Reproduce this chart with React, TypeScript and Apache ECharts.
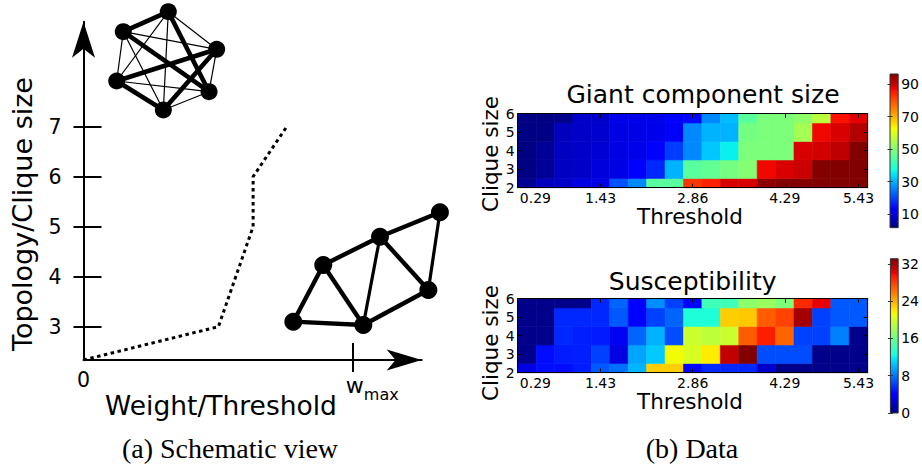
import React, { useEffect, useRef } from "react";
import * as echarts from "echarts";

// ---------- heatmap data ----------
const cliqueSizes = [2, 3, 4, 5, 6];
const thresholdTickCols = [1, 5, 10, 15, 19];
const thresholdTickLabels = ["0.29", "1.43", "2.86", "4.29", "5.43"];

// Giant component size, one row per clique size, 19 threshold steps
const giant2 = [3.2, 6.7, 7.5, 9.8, 9.8, 21, 26, 45, 45, 82.4, 84.4, 89, 89, 95, 96, 96, 96, 96, 96];
const giant3 = [1.8, 3.6, 7, 7.5, 9.3, 9.8, 12.5, 17, 30, 45, 46, 48, 50, 87, 89, 90, 96, 96, 96];
const giant4 = [1.8, 3.6, 7, 7.7, 8.5, 9.8, 10.4, 12.5, 19, 26, 32, 35.8, 49, 49, 49, 89, 89.5, 91, 96];
const giant5 = [2, 2, 6.7, 7.5, 8, 9.8, 10, 10.5, 11.5, 26, 30, 30, 48, 49, 49, 53.5, 87, 89, 92];
const giant6 = [2, 2, 2.5, 7.7, 7.7, 10.4, 10.4, 10.4, 12, 14, 26, 31, 45, 49, 49, 51, 56, 86, 88];

// Susceptibility
const susc2 = [2.9, 4.5, 4.5, 5, 7, 7.8, 10, 22.9, 22.9, 4.3, 5.4, 5.4, 5.4, 2.2, 0.3, 0.3, 0.3, 0.3, 0.3];
const susc3 = [0.3, 4.5, 5, 5.1, 6.2, 2.8, 9.5, 10.7, 21.3, 20.2, 21.8, 31.2, 33, 6.6, 6.6, 6.6, 0.3, 0.3, 0.3];
const susc4 = [0.3, 0.3, 5.4, 5.1, 5, 3.3, 7.4, 9.9, 6.6, 19.7, 19.2, 19.7, 26.9, 29.1, 26.6, 6.2, 6.2, 8.25, 0.3];
const susc5 = [0.3, 0.3, 5.4, 5.4, 5.4, 7, 4, 6.2, 7.4, 12.8, 12.8, 22.9, 23.1, 26.9, 27.8, 32.1, 6.2, 7, 7];
const susc6 = [0.3, 0.3, 0.3, 0.3, 5.4, 7.4, 4, 8.7, 6.2, 4.2, 14.1, 14.1, 17.2, 17.7, 16.7, 28.7, 30.1, 7, 7];

const giantRange = [1.6, 96.2];
const giantTicks = [10, 30, 50, 70, 90];
const suscRange = [0, 33.1];
const suscTicks = [0, 8, 16, 24, 32];

// ---------- schematic data ----------
const schematicYTicks = [3, 4, 5, 6, 7];
const schematicXTicks = [0, 1];
const schematicXMax = 1.2582;
const schematicYMin = 7 / 3;
const schematicYMax = 9.1;
const transitionCurve = [
  [0, 7 / 3],
  [0.502, 3],
  [0.631, 5],
  [0.631, 6],
  [0.756, 7],
];
const cliqueNodes = [
  [0.3155, 9.3],
  [0.148, 8.9],
  [0.4955, 8.548],
  [0.1235, 7.914],
  [0.467, 7.7],
  [0.297, 7.334],
];
// two strong triangles (0-1-4, 2-3-5) inside a complete graph of weak links
const cliqueStrongLinks = [
  [0, 1], [0, 4], [1, 4], [2, 3], [2, 5], [3, 5],
];
const cliqueWeakLinks = [
  [0, 2], [0, 3], [0, 5], [1, 2], [1, 3], [1, 5], [2, 4], [3, 4], [4, 5],
];
const meshNodes = [
  [0.7805, 3.1],
  [0.892, 4.234],
  [1.041, 3.034],
  [1.103, 4.8],
  [1.283, 3.734],
  [1.326, 5.288],
];
const meshLinks = [
  [0, 1, 4.4], [0, 2, 4.4], [1, 2, 4.4], [1, 3, 4.4], [2, 3, 3.2],
  [2, 4, 4.4], [3, 4, 4.4], [3, 5, 4.4], [4, 5, 3.2],
];

// ---------- jet colormap ----------
const jetR = [[0, 0], [0.35, 0], [0.66, 1], [0.89, 1], [1, 0.5]];
const jetG = [[0, 0], [0.125, 0], [0.375, 1], [0.64, 1], [0.91, 0], [1, 0]];
const jetB = [[0, 0.5], [0.11, 1], [0.34, 1], [0.65, 0], [1, 0]];
const jetKnots = [0, 0.11, 0.125, 0.34, 0.35, 0.375, 0.64, 0.65, 0.66, 0.89, 0.91, 1];

function channel(pts: number[][], t: number) {
  for (let i = 1; i < pts.length; i++) {
    if (t <= pts[i][0]) {
      const [t0, v0] = pts[i - 1];
      const [t1, v1] = pts[i];
      return v0 + ((v1 - v0) * (t - t0)) / (t1 - t0);
    }
  }
  return pts[pts.length - 1][1];
}
function jet(t: number) {
  const c = Math.max(0, Math.min(1, t));
  const r = Math.round(255 * channel(jetR, c));
  const g = Math.round(255 * channel(jetG, c));
  const b = Math.round(255 * channel(jetB, c));
  return `rgb(${r},${g},${b})`;
}

const FONT = "DejaVu Sans";

function cellSeries(rows: number[][], range: number[], axisX: number, axisY: number) {
  const data: number[][] = [];
  rows.forEach((row, r) => row.forEach((v, c) => data.push([c + 1, cliqueSizes[r], v])));
  return {
    type: "custom",
    xAxisIndex: axisX,
    yAxisIndex: axisY,
    data,
    encode: { x: 0, y: 1 },
    renderItem: (params: any, api: any) => {
      const x = api.value(0);
      const y = api.value(1);
      const v = api.value(2);
      const p0 = api.coord([x - 0.5, y + 0.5]);
      const p1 = api.coord([x + 0.5, y - 0.5]);
      const cs = params.coordSys;
      const rect = echarts.graphic.clipRectByRect(
        { x: p0[0], y: p0[1], width: p1[0] - p0[0], height: p1[1] - p0[1] },
        { x: cs.x, y: cs.y, width: cs.width, height: cs.height }
      );
      if (!rect) return null;
      const color = jet((v - range[0]) / (range[1] - range[0]));
      return {
        type: "rect",
        shape: rect,
        style: { fill: color, stroke: color, lineWidth: 0.6 },
      };
    },
  };
}

function colorbarSeries(range: number[], axisX: number, axisY: number) {
  return {
    type: "custom",
    xAxisIndex: axisX,
    yAxisIndex: axisY,
    data: [[0, range[0], range[1]]],
    renderItem: (_params: any, api: any) => {
      const lo = api.coord([0, api.value(1)]);
      const hi = api.coord([1, api.value(2)]);
      const stops = jetKnots.map((k) => ({ offset: k, color: jet(k) }));
      return {
        type: "rect",
        shape: { x: lo[0], y: hi[1], width: hi[0] - lo[0], height: lo[1] - hi[1] },
        style: {
          fill: new echarts.graphic.LinearGradient(0, 1, 0, 0, stops),
          stroke: "#333",
          lineWidth: 1,
        },
      };
    },
  };
}

// first threshold label sits a little right of its tick
const thresholdLabel = (v: number) => {
  const i = thresholdTickCols.indexOf(Math.round(v));
  if (i < 0) return "";
  return i === 0 ? `{first|${thresholdTickLabels[i]}}` : `{t|${thresholdTickLabels[i]}}`;
};

const heatXAxes = (grid: number) => [
  {
    gridIndex: grid,
    type: "value",
    min: 0.5,
    max: 19.5,
    position: "bottom",
    z: 10,
    axisLine: { show: true, lineStyle: { color: "#000", width: 1 } },
    axisTick: { show: true, inside: true, length: 4, customValues: thresholdTickCols, lineStyle: { color: "#000" } },
    axisLabel: {
      customValues: thresholdTickCols,
      formatter: thresholdLabel,
      margin: 3,
      rich: {
        t: { fontSize: 14, fontFamily: FONT, color: "#000" },
        first: { fontSize: 14, fontFamily: FONT, color: "#000", padding: [0, 0, 0, 17] },
      },
    },
    splitLine: { show: false },
  },
  {
    gridIndex: grid,
    type: "value",
    min: 0.5,
    max: 19.5,
    position: "top",
    z: 10,
    axisLine: { show: true, lineStyle: { color: "#000", width: 1 } },
    axisTick: { show: true, inside: true, length: 4, customValues: thresholdTickCols, lineStyle: { color: "#000" } },
    axisLabel: { show: false },
    splitLine: { show: false },
  },
];

const heatYAxes = (grid: number) => [
  {
    gridIndex: grid,
    type: "value",
    min: 2,
    max: 6,
    interval: 1,
    position: "left",
    z: 10,
    axisLine: { show: true, lineStyle: { color: "#000", width: 1 } },
    axisTick: { show: true, inside: true, length: 4, lineStyle: { color: "#000" } },
    axisLabel: { fontSize: 14, color: "#000", margin: 3 },
    splitLine: { show: false },
  },
  {
    gridIndex: grid,
    type: "value",
    min: 2,
    max: 6,
    interval: 1,
    position: "right",
    z: 10,
    axisLine: { show: true, lineStyle: { color: "#000", width: 1 } },
    axisTick: { show: true, inside: true, length: 4, lineStyle: { color: "#000" } },
    axisLabel: { show: false },
    splitLine: { show: false },
  },
];

const barYAxes = (grid: number, range: number[], ticks: number[]) => [
  {
    gridIndex: grid,
    type: "value",
    min: range[0],
    max: range[1],
    position: "right",
    z: 10,
    axisLine: { show: false },
    axisTick: { show: true, inside: true, length: 2.5, customValues: ticks, lineStyle: { color: "#333" } },
    axisLabel: { customValues: ticks, fontSize: 14, color: "#000", margin: 3 },
    splitLine: { show: false },
  },
  {
    gridIndex: grid,
    type: "value",
    min: range[0],
    max: range[1],
    position: "left",
    z: 10,
    axisLine: { show: false },
    axisTick: { show: true, inside: true, length: 2.5, customValues: ticks, lineStyle: { color: "#333" } },
    axisLabel: { show: false },
    splitLine: { show: false },
  },
];

const text = (t: string, x: number, y: number, size: number, opts: any = {}) => ({
  type: "text",
  x,
  y,
  rotation: opts.rotation ?? 0,
  style: {
    text: t,
    fontSize: size,
    fontFamily: opts.family ?? FONT,
    fill: "#000",
    textAlign: "center",
    textVerticalAlign: "middle",
  },
});

function buildOption() {
  return {
    animation: false,
    backgroundColor: "#fff",
    textStyle: { fontFamily: FONT, color: "#000" },
    grid: [
      { left: 83.5, top: 21.7, width: 338.2, height: 338.3 },
      { left: 517.7, top: 113.7, width: 350, height: 74 },
      { left: 517.7, top: 298.7, width: 350, height: 74 },
      { left: 890, top: 74, width: 8.3, height: 153.7 },
      { left: 890.4, top: 258.7, width: 7.8, height: 154.3 },
    ],
    xAxis: [
      {
        gridIndex: 0,
        type: "value",
        min: 0,
        max: schematicXMax,
        position: "bottom",
        z: 5,
        axisLine: {
          show: true,
          symbol: ["none", "arrow"],
          symbolSize: [15.75, 35],
          lineStyle: { color: "#000", width: 2 },
        },
        axisTick: { show: true, inside: true, length: 17, customValues: [1], lineStyle: { color: "#000", width: 2 } },
        axisLabel: {
          customValues: schematicXTicks,
          margin: 9,
          formatter: (v: number) => (v === 0 ? "{o|0}" : "{w|w}{m|max}"),
          rich: {
            o: { fontSize: 20.5, fontFamily: FONT, color: "#000" },
            w: { fontSize: 22, fontFamily: FONT, color: "#000", verticalAlign: "bottom", padding: [5, 0, 6, 40] },
            m: { fontSize: 16, fontFamily: FONT, color: "#000", verticalAlign: "bottom" },
          },
        },
        splitLine: { show: false },
      },
      {
        gridIndex: 0,
        type: "value",
        min: 0,
        max: schematicXMax,
        position: "bottom",
        axisLine: { show: false },
        axisTick: { show: true, inside: false, length: 12, customValues: [1], lineStyle: { color: "#000", width: 2 } },
        axisLabel: { show: false },
        splitLine: { show: false },
      },
      ...heatXAxes(1),
      ...heatXAxes(2),
      { gridIndex: 3, type: "value", min: 0, max: 1, show: false },
      { gridIndex: 4, type: "value", min: 0, max: 1, show: false },
    ],
    yAxis: [
      {
        gridIndex: 0,
        type: "value",
        min: schematicYMin,
        max: schematicYMax,
        position: "left",
        z: 5,
        axisLine: {
          show: true,
          symbol: ["none", "arrow"],
          symbolSize: [17.25, 36],
          lineStyle: { color: "#000", width: 2 },
        },
        axisTick: { show: true, inside: true, length: 18, customValues: schematicYTicks, lineStyle: { color: "#000", width: 2 } },
        axisLabel: { customValues: schematicYTicks, fontSize: 20.5, color: "#000", margin: 22 },
        splitLine: { show: false },
      },
      {
        gridIndex: 0,
        type: "value",
        min: schematicYMin,
        max: schematicYMax,
        position: "left",
        axisLine: { show: false },
        axisTick: { show: true, inside: false, length: 10, customValues: schematicYTicks, lineStyle: { color: "#000", width: 2 } },
        axisLabel: { show: false },
        splitLine: { show: false },
      },
      ...heatYAxes(1),
      ...heatYAxes(2),
      ...barYAxes(3, giantRange, giantTicks),
      ...barYAxes(4, suscRange, suscTicks),
    ],
    series: [
      {
        type: "line",
        xAxisIndex: 0,
        yAxisIndex: 0,
        data: transitionCurve,
        symbol: "none",
        silent: true,
        lineStyle: { color: "#000", width: 3, type: [3.5, 3.5], cap: "butt" },
      },
      {
        type: "graph",
        coordinateSystem: "cartesian2d",
        xAxisIndex: 0,
        yAxisIndex: 0,
        silent: true,
        symbol: "circle",
        symbolSize: 17,
        itemStyle: { color: "#000" },
        label: { show: false },
        lineStyle: { color: "#000", opacity: 1, width: 1.2 },
        data: cliqueNodes.map((p) => ({ value: p })),
        links: [
          ...cliqueWeakLinks.map(([s, t]) => ({ source: s, target: t, lineStyle: { width: 1.2 } })),
          ...cliqueStrongLinks.map(([s, t]) => ({ source: s, target: t, lineStyle: { width: 4.6 } })),
        ],
      },
      {
        type: "graph",
        coordinateSystem: "cartesian2d",
        xAxisIndex: 0,
        yAxisIndex: 0,
        silent: true,
        symbol: "circle",
        symbolSize: 18,
        itemStyle: { color: "#000" },
        label: { show: false },
        lineStyle: { color: "#000", opacity: 1, width: 4.4 },
        data: meshNodes.map((p) => ({ value: p })),
        links: meshLinks.map(([s, t, w]) => ({ source: s, target: t, lineStyle: { width: w } })),
      },
      cellSeries([giant2, giant3, giant4, giant5, giant6], giantRange, 2, 2),
      cellSeries([susc2, susc3, susc4, susc5, susc6], suscRange, 4, 4),
      colorbarSeries(giantRange, 6, 6),
      colorbarSeries(suscRange, 7, 8),
    ],
    graphic: [
      text("Topology/Clique size", 22, 214, 27, { rotation: Math.PI / 2 }),
      text("Weight/Threshold", 221, 405, 26.5),
      text("(a) Schematic view", 230, 448, 28, { family: "Liberation Serif" }),
      text("Giant component size", 703, 94, 25),
      text("Clique size", 490, 154, 21.5, { rotation: Math.PI / 2 }),
      text("Threshold", 690, 216.7, 21.5),
      text("Susceptibility", 692.7, 281.7, 25),
      text("Clique size", 490, 343, 21.5, { rotation: Math.PI / 2 }),
      text("Threshold", 690, 401.5, 21.5),
      text("(b) Data", 692, 448, 28, { family: "Liberation Serif" }),
    ],
  };
}

export default function App() {
  const ref = useRef<HTMLDivElement>(null);
  useEffect(() => {
    if (!ref.current) return;
    const chart = echarts.init(ref.current, null, { renderer: "svg" });
    chart.setOption(buildOption() as any);
    return () => chart.dispose();
  }, []);
  return (
    <div
      ref={ref}
      style={{ position: "absolute", left: 0, top: 0, width: 922, height: 468, background: "#fff" }}
    />
  );
}
